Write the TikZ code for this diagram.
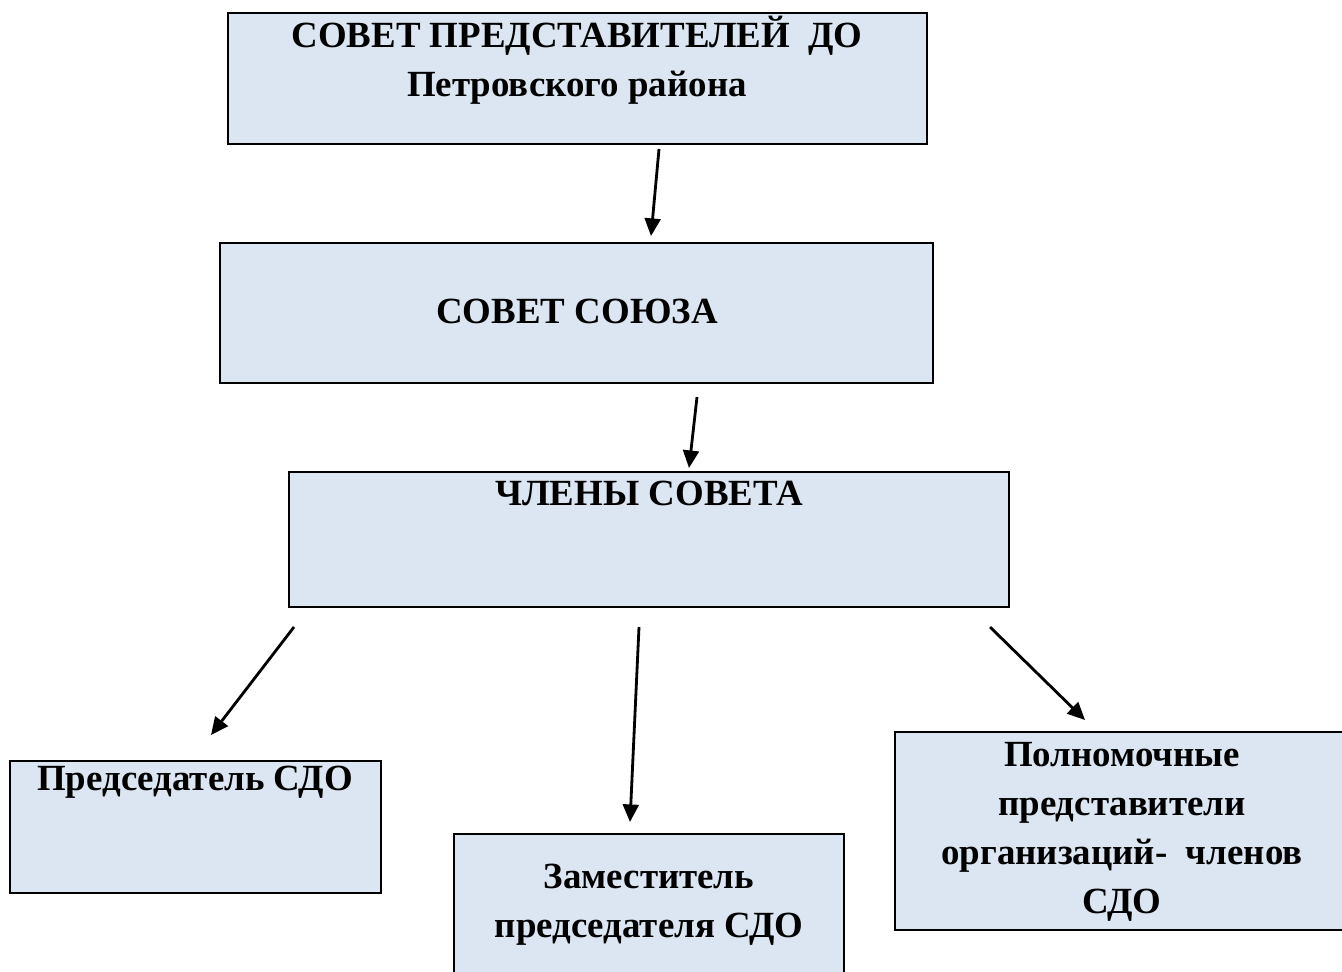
\documentclass[tikz,border=0pt]{standalone}
\usepackage{fontspec}
\setmainfont{Liberation Serif}
\usetikzlibrary{arrows.meta,positioning,fit}
\definecolor{boxblue}{RGB}{220,230,242}
\tikzset{
    %Define standard arrow tip
    >={Triangle[length=10pt,width=9pt]},
    orgbox/.style={
      rectangle,
      draw=black, line width=1.5pt,
      fill=boxblue,
      inner sep=0pt},
    orgtext/.style={
      font=\bfseries\fontsize{21}{28}\selectfont,
      align=center,
      inner sep=0pt},
    link/.style={->, line width=1.6pt}
}

\begin{document}
\begin{tikzpicture}[x=0.02cm,y=-0.02cm]
    \useasboundingbox (0,0) rectangle (1342,971);
    % boxes
    \node (council) [orgbox, fit={(228,13) (927,144)}] {};
    \node (union)   [orgbox, fit={(220,243) (933,383)}] {};
    \node (members) [orgbox, fit={(289,472) (1009,607)}] {};
    \node (chair)   [orgbox, fit={(10,761) (381,893)}] {};
    \node (deputy)  [orgbox, fit={(454,834) (844,978)}] {};
    \node (envoys)  [orgbox, fit={(895,732) (1348,930)}] {};
    % texts
    \node (councilText) [orgtext] at (577,60)
          {СОВЕТ ПРЕДСТАВИТЕЛЕЙ\ \ ДО\\Петровского района};
    \node (unionText) [orgtext] at (577,311)
          {СОВЕТ СОЮЗА};
    \node (membersText) [orgtext] at (649,493)
          {ЧЛЕНЫ СОВЕТА};
    \node (chairText) [orgtext] at (195,782)
          {Председатель СДО};
    \node (deputyText) [orgtext] at (649,905)
          {Заместитель\\председателя СДО};
    \node (envoysText) [orgtext] at (1122,832)
          {Полномочные\\представители\\организаций-\ \ членов\\СДО};
    % arrow ends
    \coordinate (c1) at (659,149);
    \coordinate (u1) at (651,236);
    \coordinate (u2) at (697,397);
    \coordinate (m1) at (689,468);
    \coordinate (m2) at (294,627);
    \coordinate (ch) at (211,735);
    \coordinate (m3) at (639,627);
    \coordinate (de) at (630,822);
    \coordinate (m4) at (990,627);
    \coordinate (en) at (1085,720);
    \draw [link] (c1) -- (u1);
    \draw [link] (u2) -- (m1);
    \draw [link] (m2) -- (ch);
    \draw [link] (m3) -- (de);
    \draw [link] (m4) -- (en);
\end{tikzpicture}
\end{document}
